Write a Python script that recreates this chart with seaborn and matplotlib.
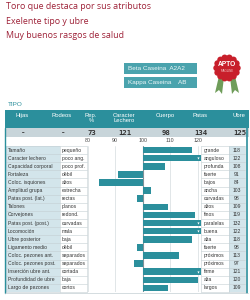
import numpy as np
import pandas as pd
import matplotlib
matplotlib.use("Agg")
import matplotlib.pyplot as plt
import seaborn as sns
from matplotlib.patches import Rectangle, Circle, Polygon

sns.set_style("white")
plt.rcParams['font.family'] = ['Liberation Sans', 'DejaVu Sans']

# datos
titulos = ["Toro que destaca por sus atributos", "Exelente tipo y ubre",
           "Muy buenos rasgos de salud"]
caseinas = ["Beta Caseina  A2A2", "Kappa Caseina    AB"]
cabecera = ["Hijas", "Rodeos", "Rep.\n%", "Caracter\nLechero", "Cuerpo", "Patas", "Ubre"]
resumen = ["-", "-", "73", "121", "98", "134", "125"]
rasgos = ["Tamaño", "Caracter lechero", "Capacidad corporal", "Fortaleza",
          "Coloc. isquiones", "Amplitud grupa", "Patas post. (lat.)", "Talones",
          "Corvejones", "Patas post. (post.)", "Locomoción", "Ubre posterior",
          "Ligamento medio", "Coloc. pezones ant.", "Coloc. pezones post.",
          "Inserción ubre ant.", "Profundidad de ubre", "Largo de pezones"]
extremo_bajo = ["pequeño", "poco ang.", "poco prof.", "débil", "altos", "estrecha",
                "rectas", "planos", "redond.", "curvadas", "mala", "baja", "débil",
                "separados", "separados", "cortada", "baja", "cortos"]
extremo_alto = ["grande", "anguloso", "profunda", "fuerte", "bajos", "ancha",
                "curvadas", "altos", "finos", "paralelas", "buena", "alta", "fuerte",
                "próximos", "próximos", "firme", "alta", "largos"]
valores = [118, 122, 108, 91, 84, 103, 98, 109, 119, 132, 122, 118, 98, 113, 97,
           121, 120, 109]
escala = [80, 90, 100, 110, 120]

TEAL = "#2b8f9c"
TEAL_CLARO = "#4aa3ad"
AZUL_CLARO = "#d3e5eb"
GRIS = "#c8d5da"
GRANATE = "#9e2238"

W, H = 251, 300
fig = plt.figure(figsize=(W / 100, H / 100), dpi=100)
ov = fig.add_axes([0, 0, 1, 1])
ov.set_xlim(0, W)
ov.set_ylim(H, 0)
ov.axis("off")

# titulos
for i, t in enumerate(titulos):
    ov.text(6, 6.5 + 14.5 * i, t, color=GRANATE, fontsize=6.4, va="center", ha="left",
            family=['Open Sans', 'DejaVu Sans'])

# cajas caseina
for i, t in enumerate(caseinas):
    ov.add_patch(Rectangle((124, 63 + 14 * i), 73, 11, color=TEAL_CLARO, lw=0))
    ov.text(128, 68.7 + 14 * i, t, color="#eef7f8", fontsize=4.6, va="center", ha="left")

# escarapela APTO
ov.add_patch(Polygon([[219, 76], [224, 77], [222, 94], [219, 90], [215, 93]],
                     color="#6f9d5a", lw=0))
ov.add_patch(Polygon([[230, 77], [235, 76], [239, 93], [235, 90], [232, 94]],
                     color="#6f9d5a", lw=0))
ang = np.linspace(0, 2 * np.pi, 15)[:-1]
for a in ang:
    ov.add_patch(Circle((227 + 10.5 * np.cos(a), 68 + 10.5 * np.sin(a)), 3.2,
                        color="#c81f2b", lw=0))
ov.add_patch(Circle((227, 68), 11, color="#c81f2b", lw=0))
ov.text(227, 65, "APTO", color="white", fontsize=4.8, fontweight="bold",
        ha="center", va="center")
ov.text(227, 71.5, "MAGLINE", color="#f3c6c6", fontsize=2.2, ha="center", va="center")

# TIPO
ov.text(8, 104.5, "TIPO", color=TEAL, fontsize=4.6, va="center")

# cabecera
ov.add_patch(Rectangle((5, 110), 244, 18, color=TEAL, lw=0))
cx = [22, 62, 91, 124, 165, 200, 239]
for x, t in zip(cx, cabecera):
    ov.text(x, 113, t, color="white", fontsize=4.2, ha="center", va="top",
            linespacing=1.0)
ov.add_patch(Rectangle((5, 128), 244, 9, color=GRIS, lw=0))
for x, t in zip(cx, resumen):
    ov.text(x + 1, 132.8, t, color="#333333", fontsize=5.2, ha="center",
            va="center", fontweight="bold", family=['DejaVu Sans Mono'])

# filas de la tabla
y0, dy = 146, 146 / 18
n = len(rasgos)
ov.add_patch(Rectangle((6, y0), 54, dy * n, color=AZUL_CLARO, lw=0))
ov.add_patch(Rectangle((229, y0), 16, dy * n, color=AZUL_CLARO, lw=0))
for i in range(n + 1):
    y = y0 + dy * i
    ov.plot([6, 87.5], [y, y], color="#c4cfd3", lw=0.4)
    ov.plot([201, 245], [y, y], color="#c4cfd3", lw=0.4)
for x in [6, 60, 87.5, 201, 229, 245]:
    ov.plot([x, x], [y0, y0 + dy * n], color="#c4cfd3", lw=0.4)
ov.plot([5.2, 5.2], [128, y0 + dy * n + 1], color=TEAL, lw=1.0)
ov.plot([247.5, 247.5], [128, y0 + dy * n + 1], color=TEAL, lw=1.2)
ov.plot([5, 248], [y0 + dy * n + 1, y0 + dy * n + 1], color="#c4cfd3", lw=0.5)
for i in range(n):
    yc = y0 + dy * (i + 0.5)
    ov.text(8, yc, rasgos[i], fontsize=3.6, va="center", color="#333333")
    ov.text(62, yc, extremo_bajo[i], fontsize=3.6, va="center", color="#333333")
    ov.text(204, yc, extremo_alto[i], fontsize=3.6, va="center", color="#333333")
    ov.text(237, yc, str(valores[i]), fontsize=3.6, va="center", ha="center",
            color="#333333")

# grafico de barras
px_u = 2.76
x_izq, x_der = 87.5, 201
lim_der = (x_der - x_izq) / px_u - 20
ax = fig.add_axes([x_izq / W, 1 - (y0 + dy * n) / H, (x_der - x_izq) / W, dy * n / H])
df = pd.DataFrame({"rasgo": rasgos, "desvio": [v - 100 for v in valores]})
sns.barplot(data=df, x="desvio", y="rasgo", orient="h", color=TEAL, width=0.8,
            saturation=1, linewidth=0, ax=ax, zorder=3)
ax.set_xlim(-20, lim_der)
ax.set_ylim(n - 0.5, -0.5)
ax.set_xticks([e - 100 for e in escala])
for t in ax.get_xticks():
    ax.axvline(t, color="#7f9197" if t == 0 else "#d5dcdf", lw=0.8 if t == 0 else 0.5,
               zorder=1)
ax.set_xticklabels([str(e) for e in escala])
ax.xaxis.tick_top()
ax.tick_params(axis="x", length=0, labelsize=3.8, pad=2.5, labelcolor="#444444")
ax.set_yticks([])
ax.set_xlabel("")
ax.set_ylabel("")
for s in ax.spines.values():
    s.set_visible(False)
cortados = df[df["desvio"] > lim_der - 0.3]
ax.scatter([lim_der - 1.0] * len(cortados), cortados["rasgo"], marker="v", s=2.5,
           color="white", zorder=4, linewidths=0)

fig.savefig("out.png", dpi=100)
